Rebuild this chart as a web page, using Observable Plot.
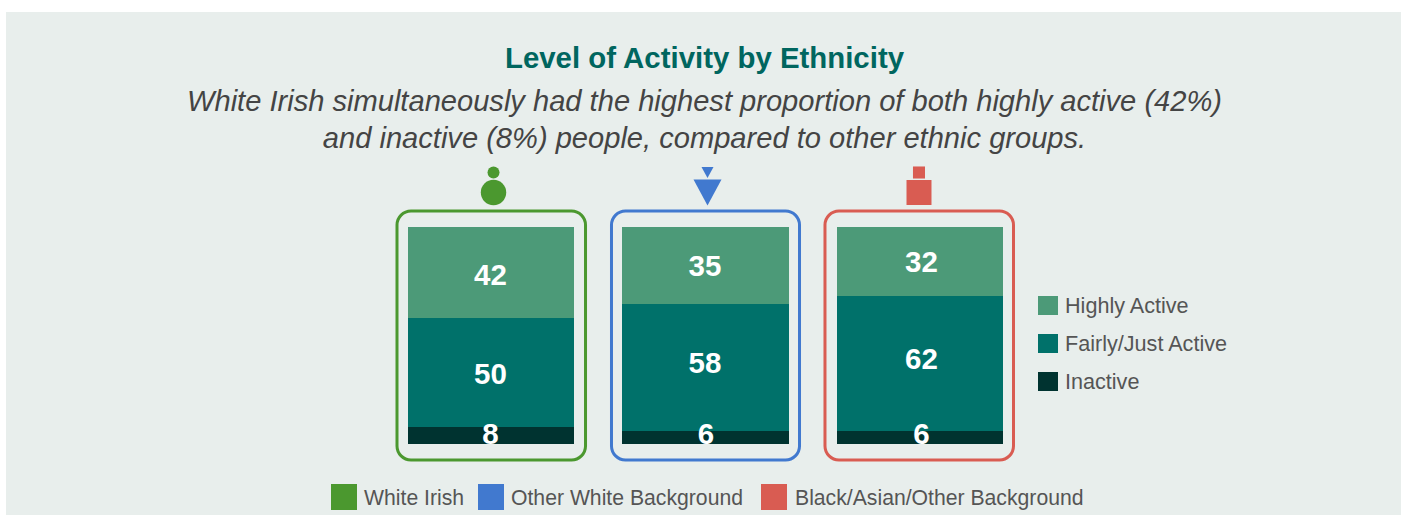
<!DOCTYPE html>
<html>
<head>
<meta charset="utf-8">
<script src="https://cdn.jsdelivr.net/npm/d3@7"></script>
<script src="https://cdn.jsdelivr.net/npm/@observablehq/plot@0.6"></script>
<style>
  html, body { margin: 0; padding: 0; background: #fff; }
  body { width: 1405px; height: 515px; overflow: hidden; position: relative; font-family: "Liberation Sans", Arial, sans-serif; }
  #panel { position: absolute; left: 6px; top: 12px; width: 1395px; height: 503px; background: #E8EEEC; }
  .head { position: absolute; left: 0; width: 1409px; text-align: center; white-space: nowrap; }
  #title { top: 41px; font-size: 29.4px; line-height: 34px; font-weight: bold; color: #00665F; }
  .sub { font-size: 29.1px; line-height: 34px; font-style: italic; color: #444; }
  #chart { position: absolute; left: 0; top: 160px; }
  .sw { position: absolute; }
  .lb { position: absolute; line-height: 24px; color: #555; white-space: nowrap; }
</style>
</head>
<body>
<div id="panel"></div>
<div class="head" id="title"></div>
<div class="head sub" id="sub1" style="top:84px"></div>
<div class="head sub" id="sub2" style="top:121px"></div>
<div id="chart"></div>
<script>
const titleText = "Level of Activity by Ethnicity";
const subtitleLines = [
  "White Irish simultaneously had the highest proportion of both highly active (42%)",
  "and inactive (8%) people, compared to other ethnic groups."
];
const groups = ["White Irish", "Other White Background", "Black/Asian/Other Background"];
const levels = ["Highly Active", "Fairly/Just Active", "Inactive"];
const highlyActive = [42, 35, 32];
const fairlyActive = [50, 58, 62];
const inactive = [8, 6, 6];
const groupColors = ["#4B982F", "#4179CF", "#D95C52"];
const levelColors = ["#4C9A78", "#00716A", "#003330"];

document.getElementById("title").textContent = titleText;
document.getElementById("sub1").textContent = subtitleLines[0];
document.getElementById("sub2").textContent = subtitleLines[1];

const seriesByLevel = [highlyActive, fairlyActive, inactive];
// Stack from the bottom up: Inactive, Fairly/Just Active, Highly Active
const rows = [2, 1, 0].flatMap(l => groups.map((g, i) => ({group: g, level: levels[l], value: seriesByLevel[l][i], l, i})));

const invertedTriangle = {
  draw(ctx, size) {
    const r = Math.sqrt(size / Math.PI);
    ctx.moveTo(-r, -r * 0.93);
    ctx.lineTo(r, -r * 0.93);
    ctx.lineTo(0, r * 0.93);
    ctx.closePath();
  }
};
// Per-group drawing style of the icon above each panel
const iconStyle = [
  {symbol: "circle", big: 12.7, small: 6, dx: 2},
  {symbol: invertedTriangle, big: 14, small: 6, dx: 1.5},
  {symbol: "square", big: 14.1, small: 6.8, dx: -1.5}
];
// Label nudges in pixels, by level then group (the labels sit off-centre in the source)
const labelDy = [[2, 1, 0.5], [1.5, -4, -4.5], [-1.5, -3.5, -3.5]];
const labelDx = [[-1, -1, 1], [-1, -1, 1], [-1, 0, 1]];
const frameInsets = [[-11, -11.5], [-11, -11], [-12, -10.5]];

// Each column fills the full height, so the rounded 35/58/6 still reaches the top
const totals = groups.map((g, i) => seriesByLevel.reduce((s, a) => s + a[i], 0));

const marks = [
  Plot.barY(rows, Plot.stackY({x: "group", y: "value", order: null, offset: "normalize", fill: d => levelColors[d.l], shapeRendering: "crispEdges"})),
  ...groups.flatMap((g, i) => [
    Plot.barY([g], {
      x: d => d, y1: () => 0, y2: () => 1,
      fill: "none", stroke: groupColors[i], strokeWidth: 3, rx: 14,
      insetLeft: frameInsets[i][0], insetRight: frameInsets[i][1], insetTop: -16, insetBottom: -16
    }),
    Plot.dot([g], {x: d => d, y: () => 1, dy: -35, dx: iconStyle[i].dx, r: iconStyle[i].big, symbol: iconStyle[i].symbol, fill: groupColors[i], stroke: "none"}),
    Plot.dot([g], {x: d => d, y: () => 1, dy: -55, dx: iconStyle[i].dx, r: iconStyle[i].small, symbol: iconStyle[i].symbol, fill: groupColors[i], stroke: "none"})
  ]),
  ...rows.map(r => {
    const below = seriesByLevel.slice(r.l + 1).reduce((s, a) => s + a[r.i], 0);
    return Plot.text([r], {
      x: "group", y: () => (below + r.value / 2) / totals[r.i], text: d => String(d.value),
      dy: labelDy[r.l][r.i], dx: labelDx[r.l][r.i],
      fill: "#fff", fontSize: 29.5, fontWeight: "bold", fontFamily: "Liberation Sans, Arial, sans-serif"
    });
  })
];

const plot = Plot.plot({
  width: 1405, height: 310,
  marginLeft: 408, marginRight: 402, marginTop: 67, marginBottom: 26,
  style: {background: "transparent"},
  x: {domain: groups, axis: null, paddingInner: 0.226, paddingOuter: 0, round: false, label: null},
  y: {domain: [0, 1], axis: null, label: null},
  marks
});
document.getElementById("chart").appendChild(plot);

function addLegendItem(text, color, x, y, w, h, tx, ty, fs) {
  const s = document.createElement("div");
  s.className = "sw";
  s.style.cssText = `left:${x}px;top:${y}px;width:${w}px;height:${h}px;background:${color}`;
  document.body.appendChild(s);
  const t = document.createElement("div");
  t.className = "lb";
  t.style.cssText = `left:${tx}px;top:${ty}px;font-size:${fs}px`;
  t.textContent = text;
  document.body.appendChild(t);
}
const levelLegendTop = [296, 334, 372];
levels.forEach((l, i) => addLegendItem(l, levelColors[i], 1038, levelLegendTop[i], 20, 19, 1065, levelLegendTop[i] - 2, 21.6));
const groupLegendLeft = [331, 478, 761];
const groupLegendText = [364, 511, 795];
groups.forEach((g, i) => addLegendItem(g, groupColors[i], groupLegendLeft[i], 484, 26, 26, groupLegendText[i], 486, 21.2));
</script>
</body>
</html>
